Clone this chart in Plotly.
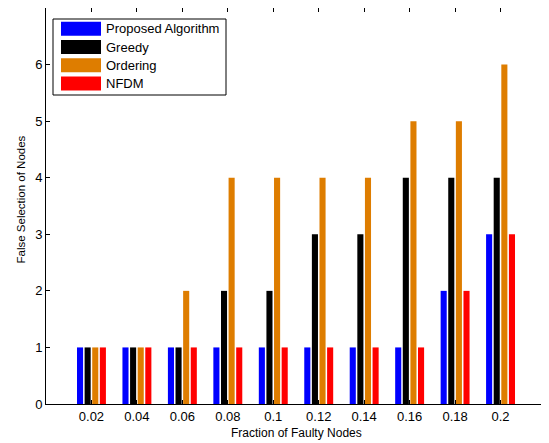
import plotly.graph_objects as go

categories = ["0.02", "0.04", "0.06", "0.08", "0.1", "0.12", "0.14", "0.16", "0.18", "0.2"]
proposed = [1, 1, 1, 1, 1, 1, 1, 1, 2, 3]
greedy = [1, 1, 1, 2, 2, 3, 3, 4, 4, 4]
ordering = [1, 1, 2, 4, 4, 4, 4, 5, 5, 6]
nfdm = [1, 1, 1, 1, 1, 1, 1, 1, 2, 3]
series_names = ["Proposed Algorithm", "Greedy", "Ordering", "NFDM"]
series_colors = ["#0000FF", "#000000", "#DE7D00", "#FF0000"]
y_ticks = [0, 1, 2, 3, 4, 5, 6, 7]

# page has an 8px body margin; compensate so the figure fits the 549x443 window
OFF = 8
W, H = 549 - OFF, 443 - OFF
ML, MR, MT, MB = 38, 3, 0, 39
PW, PH = W - ML - MR, H - MT - MB
FONT = "Liberation Sans, Arial, sans-serif"

def px_x(x):
    # page pixel -> paper x
    return (x - OFF - ML) / PW

def px_y(y):
    # page pixel -> paper y
    return (OFF + MT + PH - y) / PH

fig = go.Figure()
for name, vals, col in zip(series_names, [proposed, greedy, ordering, nfdm], series_colors):
    fig.add_trace(go.Bar(x=categories, y=vals, name=name, marker=dict(color=col, line=dict(width=0)),
                         showlegend=False))

# custom legend (MATLAB style)
shapes = [dict(type="rect", xref="paper", yref="paper", x0=px_x(53), x1=px_x(226),
               y0=px_y(95), y1=px_y(19), line=dict(color="black", width=1), fillcolor="white", layer="above")]
annotations = []
row_centers = [28.7, 47.0, 65.2, 83.4]
for name, col, yc in zip(series_names, series_colors, row_centers):
    shapes.append(dict(type="rect", xref="paper", yref="paper", x0=px_x(61), x1=px_x(101),
                       y0=px_y(yc + 7), y1=px_y(yc - 7), line=dict(width=0), fillcolor=col, layer="above"))
    annotations.append(dict(xref="paper", yref="paper", x=px_x(104), y=px_y(yc), text=name,
                            showarrow=False, xanchor="left", yanchor="middle",
                            font=dict(family=FONT, size=13, color="black")))

# axis titles
annotations.append(dict(xref="paper", yref="paper", x=px_x(296), y=px_y(433), text="Fraction of Faulty Nodes",
                        showarrow=False, xanchor="center", yanchor="middle",
                        font=dict(family=FONT, size=12, color="black")))
annotations.append(dict(xref="paper", yref="paper", x=px_x(20.5), y=px_y(200), text="False Selection of Nodes",
                        showarrow=False, xanchor="center", yanchor="middle", textangle=-90,
                        font=dict(family=FONT, size=11.5, color="black")))

fig.update_layout(
    width=W, height=H, margin=dict(l=ML, r=MR, t=MT, b=MB),
    paper_bgcolor="white", plot_bgcolor="white",
    barmode="group", bargap=0.33, bargroupgap=0.2,
    font=dict(family=FONT, size=12, color="black"),
    shapes=shapes, annotations=annotations,
    xaxis=dict(type="category", range=[-1, 10], showline=True, linecolor="black", linewidth=1,
               mirror="ticks", ticks="inside", ticklen=4, tickcolor="black", showgrid=False,
               tickfont=dict(family=FONT, size=13)),
    yaxis=dict(range=[0, 7], tickvals=y_ticks, showline=True, linecolor="black", linewidth=1,
               mirror="ticks", ticks="inside", ticklen=4, tickcolor="black", showgrid=False,
               zeroline=False, tickfont=dict(family=FONT, size=13)),
)

fig.write_html("out.html")
